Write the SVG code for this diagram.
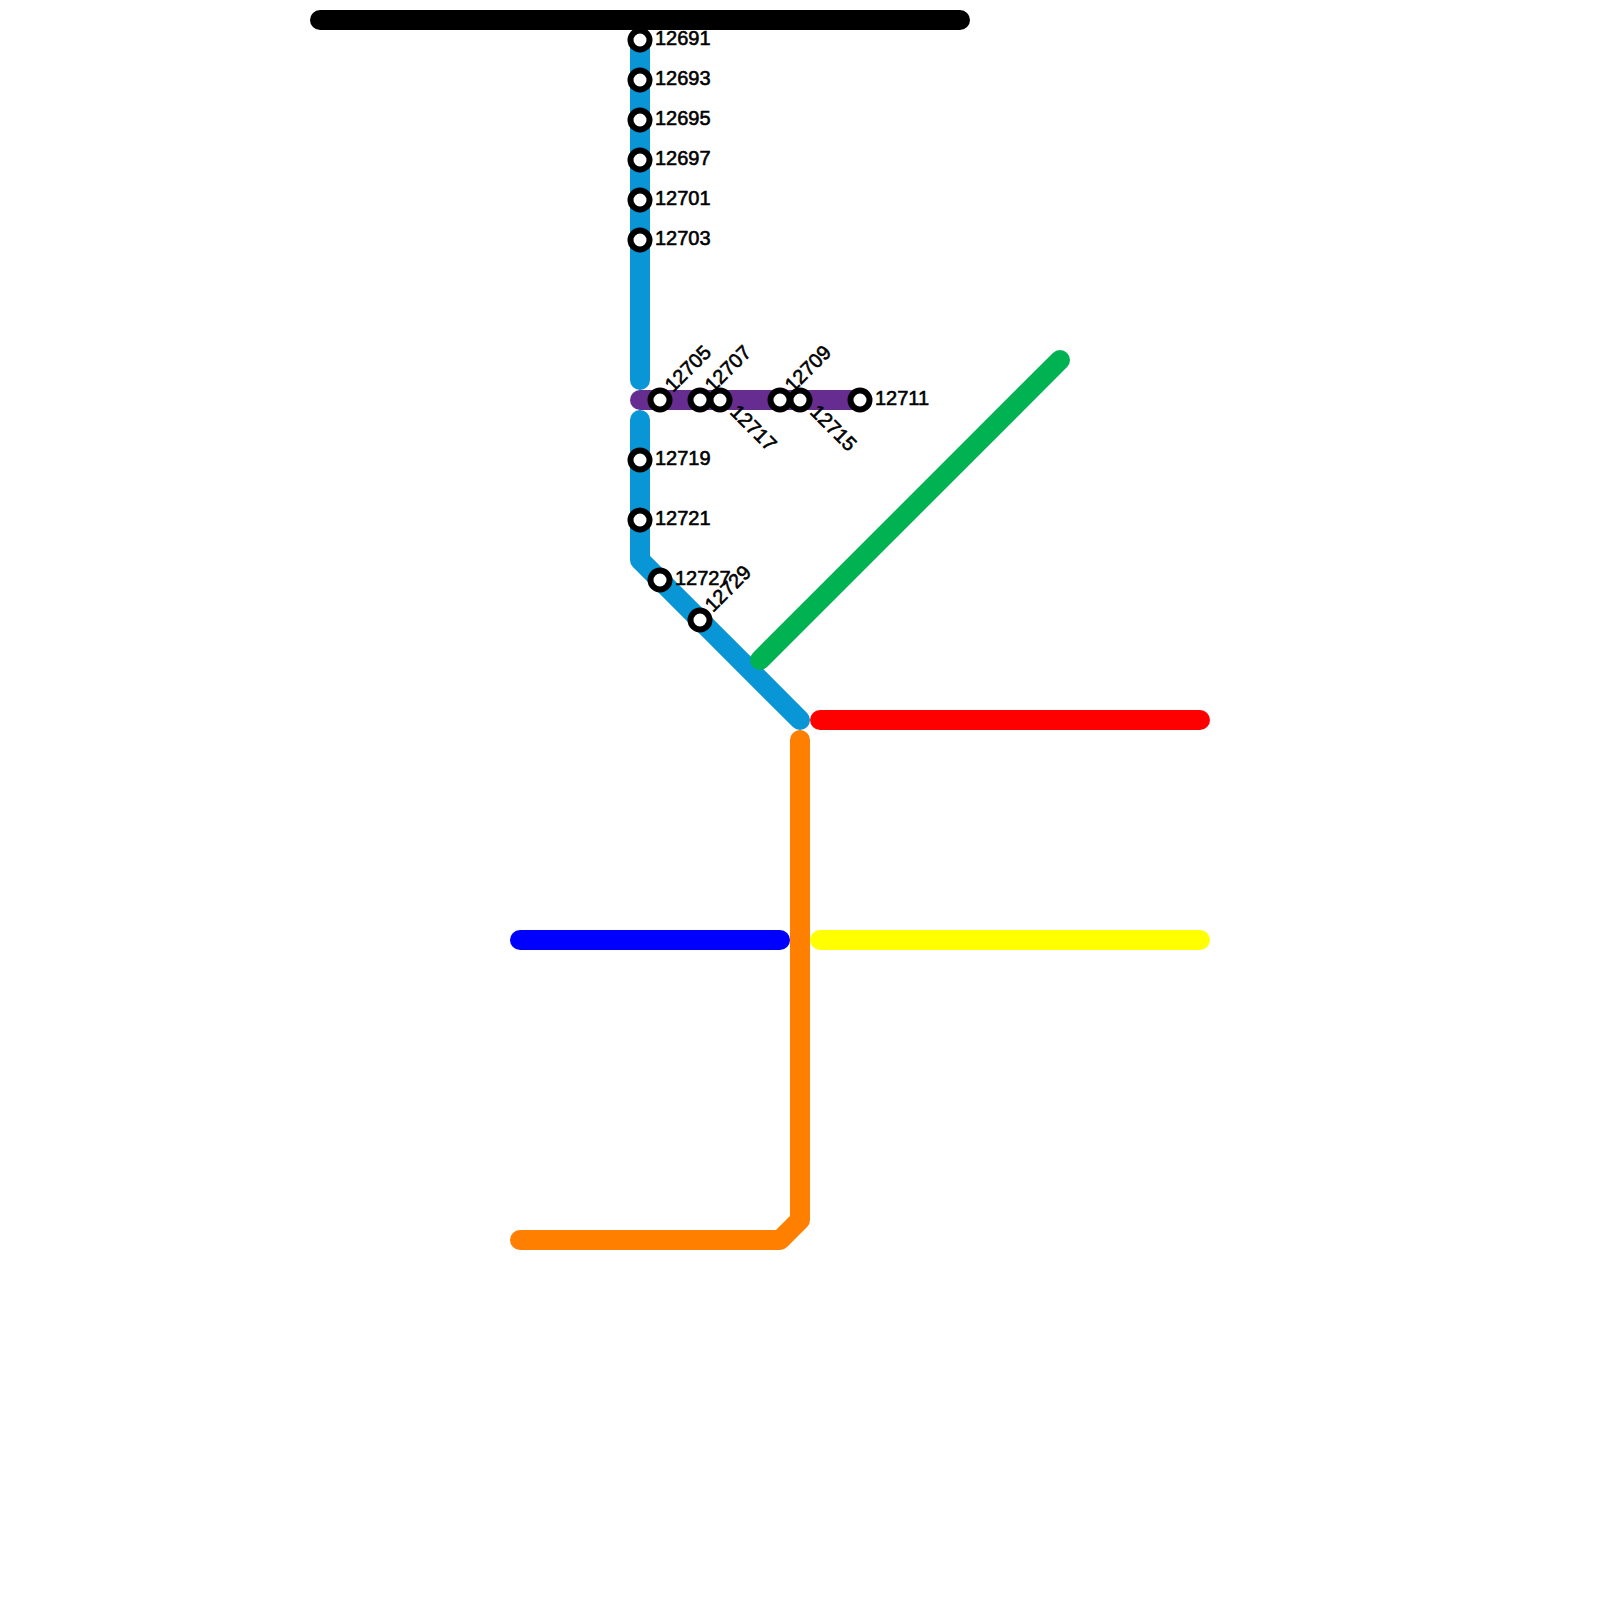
<svg xmlns="http://www.w3.org/2000/svg" width="1600" height="1600" viewBox="0 0 1600 1600">
<style>
.l{fill:none;stroke-width:20;stroke-linecap:round;stroke-linejoin:round}
.s{fill:#fff;stroke:#000;stroke-width:6}
text{font-family:"Liberation Sans",Arial,sans-serif;font-size:20px;fill:#000;stroke:#000;stroke-width:.6}
</style>
<rect width="1600" height="1600" fill="#fff"/>
<g id="connectors">
<path class="l" stroke="#0896d7" d="M640 40V380"/>
<path class="l" stroke="#0896d7" d="M640 420V560L800 720"/>
<path class="l" stroke="#662c90" d="M640 400H860"/>
<path class="l" stroke="#00b251" d="M760 660L1060 360"/>
<path class="l" stroke="#ff0000" d="M820 720H1200"/>
<path class="l" stroke="#ff8000" d="M800 740V1220L780 1240H520"/>
<path class="l" stroke="#0000ff" d="M520 940H780"/>
<path class="l" stroke="#ffff00" d="M820 940H1200"/>
</g>
<g id="s12691"><circle class="s" cx="640" cy="40" r="9.5"/><text x="655" y="45">12691</text></g>
<g id="s12693"><circle class="s" cx="640" cy="80" r="9.5"/><text x="655" y="85">12693</text></g>
<g id="s12695"><circle class="s" cx="640" cy="120" r="9.5"/><text x="655" y="125">12695</text></g>
<g id="s12697"><circle class="s" cx="640" cy="160" r="9.5"/><text x="655" y="165">12697</text></g>
<g id="s12701"><circle class="s" cx="640" cy="200" r="9.5"/><text x="655" y="205">12701</text></g>
<g id="s12703"><circle class="s" cx="640" cy="240" r="9.5"/><text x="655" y="245">12703</text></g>
<g id="s12705"><circle class="s" cx="660" cy="400" r="9.5"/><text transform="translate(673 393) rotate(-45)">12705</text></g>
<g id="s12707"><circle class="s" cx="700" cy="400" r="9.5"/><text transform="translate(713 393) rotate(-45)">12707</text></g>
<g id="s12717"><circle class="s" cx="720" cy="400" r="9.5"/><text transform="translate(729 413) rotate(45)">12717</text></g>
<g id="s12709"><circle class="s" cx="780" cy="400" r="9.5"/><text transform="translate(793 393) rotate(-45)">12709</text></g>
<g id="s12715"><circle class="s" cx="800" cy="400" r="9.5"/><text transform="translate(809 413) rotate(45)">12715</text></g>
<g id="s12711"><circle class="s" cx="860" cy="400" r="9.5"/><text x="875" y="405">12711</text></g>
<g id="s12719"><circle class="s" cx="640" cy="460" r="9.5"/><text x="655" y="465">12719</text></g>
<g id="s12721"><circle class="s" cx="640" cy="520" r="9.5"/><text x="655" y="525">12721</text></g>
<g id="s12727"><circle class="s" cx="660" cy="580" r="9.5"/><text x="675" y="585">12727</text></g>
<g id="s12729"><circle class="s" cx="700" cy="620" r="9.5"/><text transform="translate(713 613) rotate(-45)">12729</text></g>
<g id="top-line"><path class="l" stroke="#000" d="M320 20H960"/></g>
</svg>
